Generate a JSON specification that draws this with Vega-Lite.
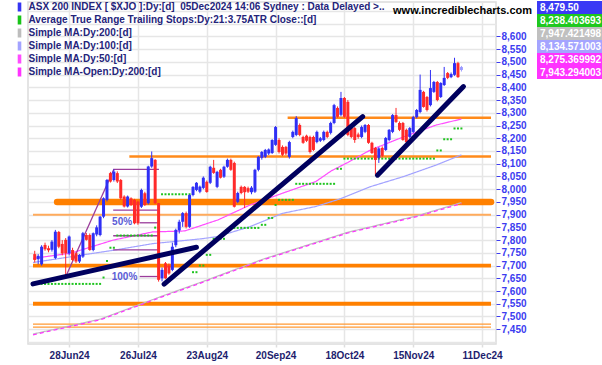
{
"$schema": "https://vega.github.io/schema/vega-lite/v6.json",
"width": 468, "height": 342,
"autosize": {"type": "none"},
"padding": {"left": 28, "top": 2, "right": 106, "bottom": 21},
"background": "white",
"title": {"text": "www.incrediblecharts.com", "orient": "top", "anchor": "end", "align": "right", "frame": "group", "offset": 0, "dy": 24, "dx": 36, "font": "Liberation Sans", "fontSize": 11, "fontWeight": "bold", "color": "#000000", "baseline": "alphabetic", "limit": 0},
"config": {
"view": {"stroke": "#dcdcdc", "strokeWidth": 1.5},
"font": "Liberation Sans",
"title": {"fontSize": 11, "font": "Liberation Sans", "fontWeight": "bold"},
"axisY": {"grid": true, "gridColor": "#e6e6e6", "gridWidth": 1.5, "domain": false, "tickSize": 4, "tickCount": 27, "labelFont": "Liberation Sans", "labelFontWeight": "bold", "labelFontSize": 10, "labelColor": "#3c3cf0", "labelPadding": 1, "labelOverlap": false, "labelSeparation": 0, "labelFlush": false, "labelBaseline": "middle"},
"axisX": {"grid": true, "gridColor": "#e6e6e6", "gridWidth": 1.5, "domain": false, "tickSize": 3, "tickColor": "#dedede", "tickWidth": 1.5, "labelFont": "Liberation Sans", "labelFontWeight": "bold", "labelFontSize": 10, "labelColor": "#1e1e6e", "labelPadding": 3, "labelFlush": false, "labelOverlap": false}
},
"datasets": {
"levels": [
{"v": 8280, "a": 63.5, "b": 122.6, "k": "mid"},
{"v": 8128, "a": 17.5, "b": 122.6, "k": "mid"},
{"v": 7950, "a": -3.5, "b": 122.6, "k": "heavy"},
{"v": 7900, "a": -10.5, "b": 122.6, "k": "thin"},
{"v": 7700, "a": -10.5, "b": 122.6, "k": "wide"},
{"v": 7550, "a": -10.5, "b": 122.6, "k": "wide"},
{"v": 7470, "a": -10.5, "b": 122.6, "k": "hair"},
{"v": 7458, "a": -10.5, "b": 122.6, "k": "hair"}
],
"ma": [
{"s": "Simple MA:Dy:50:[d]", "i": -10.5, "v": 7728},
{"s": "Simple MA:Dy:50:[d]", "i": 0.6, "v": 7749},
{"s": "Simple MA:Dy:50:[d]", "i": 8, "v": 7780},
{"s": "Simple MA:Dy:50:[d]", "i": 12.8, "v": 7800},
{"s": "Simple MA:Dy:50:[d]", "i": 24.2, "v": 7832},
{"s": "Simple MA:Dy:50:[d]", "i": 33.6, "v": 7836},
{"s": "Simple MA:Dy:50:[d]", "i": 43.2, "v": 7879},
{"s": "Simple MA:Dy:50:[d]", "i": 52.6, "v": 7938},
{"s": "Simple MA:Dy:50:[d]", "i": 62, "v": 7984},
{"s": "Simple MA:Dy:50:[d]", "i": 71.7, "v": 8030},
{"s": "Simple MA:Dy:50:[d]", "i": 76.2, "v": 8072},
{"s": "Simple MA:Dy:50:[d]", "i": 81, "v": 8105},
{"s": "Simple MA:Dy:50:[d]", "i": 87.6, "v": 8154},
{"s": "Simple MA:Dy:50:[d]", "i": 97.3, "v": 8206},
{"s": "Simple MA:Dy:50:[d]", "i": 106.7, "v": 8252},
{"s": "Simple MA:Dy:50:[d]", "i": 114, "v": 8275.4},
{"s": "Simple MA:Dy:100:[d]", "i": -10.5, "v": 7712},
{"s": "Simple MA:Dy:100:[d]", "i": 12.8, "v": 7760},
{"s": "Simple MA:Dy:100:[d]", "i": 24.2, "v": 7786},
{"s": "Simple MA:Dy:100:[d]", "i": 38.4, "v": 7805},
{"s": "Simple MA:Dy:100:[d]", "i": 43.2, "v": 7814},
{"s": "Simple MA:Dy:100:[d]", "i": 52.6, "v": 7853},
{"s": "Simple MA:Dy:100:[d]", "i": 62, "v": 7905},
{"s": "Simple MA:Dy:100:[d]", "i": 71.7, "v": 7932},
{"s": "Simple MA:Dy:100:[d]", "i": 78.8, "v": 7962},
{"s": "Simple MA:Dy:100:[d]", "i": 87.6, "v": 8010},
{"s": "Simple MA:Dy:100:[d]", "i": 97.3, "v": 8050},
{"s": "Simple MA:Dy:100:[d]", "i": 106.7, "v": 8095},
{"s": "Simple MA:Dy:100:[d]", "i": 114, "v": 8134.6},
{"s": "Simple MA:Dy:200:[d]", "i": -10.5, "v": 7431},
{"s": "Simple MA:Dy:200:[d]", "i": 9.1, "v": 7490},
{"s": "Simple MA:Dy:200:[d]", "i": 27, "v": 7580},
{"s": "Simple MA:Dy:200:[d]", "i": 38.4, "v": 7635},
{"s": "Simple MA:Dy:200:[d]", "i": 56.3, "v": 7725},
{"s": "Simple MA:Dy:200:[d]", "i": 81, "v": 7831},
{"s": "Simple MA:Dy:200:[d]", "i": 101, "v": 7895},
{"s": "Simple MA:Dy:200:[d]", "i": 114, "v": 7947.4},
{"s": "Simple MA-Open:Dy:200:[d]", "i": -10.5, "v": 7428},
{"s": "Simple MA-Open:Dy:200:[d]", "i": 9.1, "v": 7487},
{"s": "Simple MA-Open:Dy:200:[d]", "i": 27, "v": 7577},
{"s": "Simple MA-Open:Dy:200:[d]", "i": 38.4, "v": 7632},
{"s": "Simple MA-Open:Dy:200:[d]", "i": 56.3, "v": 7722},
{"s": "Simple MA-Open:Dy:200:[d]", "i": 81, "v": 7828},
{"s": "Simple MA-Open:Dy:200:[d]", "i": 101, "v": 7892},
{"s": "Simple MA-Open:Dy:200:[d]", "i": 114, "v": 7943.3}
],
"fib": [
{"a": -1, "va": 7656, "b": 13, "vb": 8078},
{"a": 12.8, "va": 8078, "b": 26.1, "vb": 8078},
{"a": 12.8, "va": 7918, "b": 26.1, "vb": 7918},
{"a": 20.5, "va": 7868, "b": 26.1, "vb": 7868},
{"a": 12.8, "va": 7817, "b": 26.1, "vb": 7817},
{"a": 12.8, "va": 7762, "b": 26.1, "vb": 7762},
{"a": 20.5, "va": 7657, "b": 26.1, "vb": 7657}
],
"fibtxt": [
{"i": 15.4, "v": 7870, "t": "50%"},
{"i": 16.1, "v": 7657, "t": "100%"}
],
"trend": [
{"a": -10.5, "va": 7628, "b": 37, "vb": 7772},
{"a": 27.6, "va": 7627, "b": 85.3, "vb": 8285},
{"a": 89.6, "va": 8055, "b": 114.6, "vb": 8403}
],
"last": [
{"lab": "8,479.50", "i": 114, "v": 8479.5},
{"lab": "8,238.403693", "i": 114, "v": 8238.4},
{"lab": "7,947.421498", "i": 114, "v": 7947.4},
{"lab": "8,134.571003", "i": 114, "v": 8134.6},
{"lab": "8,275.369992", "i": 114, "v": 8275.4},
{"lab": "7,943.294003", "i": 114, "v": 7943.3}
],
"atr": [
{"i":-10,"s":7628},{"i":-9,"s":7628},{"i":-8,"s":7628},{"i":-7,"s":7628},{"i":-6,"s":7628},{"i":-5,"s":7628},{"i":-4,"s":7628},{"i":-3,"s":7628},{"i":-2,"s":7628},{"i":-1,"s":7628},
{"i":0,"s":7628},{"i":1,"s":7628},{"i":2,"s":7628},{"i":3,"s":7628},{"i":4,"s":7628},{"i":5,"s":7628},{"i":6,"s":7628},{"i":7,"s":7628},{"i":8,"s":7628},{"i":9,"s":7628},
{"i":10,"s":7653},{"i":11,"s":7718},{"i":12,"s":7770},{"i":13,"s":7770},{"i":14,"s":7818},{"i":15,"s":7818},{"i":16,"s":7818},{"i":17,"s":7818},{"i":18,"s":7818},{"i":19,"s":7818},
{"i":20,"s":7818},{"i":21,"s":7818},{"i":22,"s":7818},{"i":23,"s":7818},{"i":24,"s":7818},{"i":25,"s":7849},{"i":26,"s":7849},{"i":27,"s":7980},{"i":28,"s":7980},{"i":29,"s":7980},
{"i":30,"s":7980},{"i":31,"s":7980},{"i":32,"s":7980},{"i":33,"s":7980},{"i":34,"s":7980},{"i":35,"s":7980},{"i":36,"s":7674},{"i":37,"s":7674},{"i":38,"s":7700},{"i":39,"s":7700},
{"i":40,"s":7742},{"i":41,"s":7742},{"i":42,"s":7805},{"i":43,"s":7805},{"i":44,"s":7805},{"i":45,"s":7805},{"i":46,"s":7830},{"i":47,"s":7848},{"i":48,"s":7848},{"i":49,"s":7848},
{"i":50,"s":7848},{"i":51,"s":7848},{"i":52,"s":7848},{"i":53,"s":7848},{"i":54,"s":7848},{"i":55,"s":7848},{"i":56,"s":7860},{"i":57,"s":7860},{"i":58,"s":7887},{"i":59,"s":7887},
{"i":60,"s":7938},{"i":61,"s":7958},{"i":62,"s":7958},{"i":63,"s":7958},{"i":64,"s":7958},{"i":65,"s":7958},{"i":66,"s":8021},{"i":67,"s":8021},{"i":68,"s":8021},{"i":69,"s":8021},
{"i":70,"s":8021},{"i":71,"s":8021},{"i":72,"s":8021},{"i":73,"s":8021},{"i":74,"s":8021},{"i":75,"s":8021},{"i":76,"s":8021},{"i":77,"s":8021},{"i":78,"s":8080},{"i":79,"s":8080},
{"i":80,"s":8120},{"i":81,"s":8120},{"i":82,"s":8120},{"i":83,"s":8120},{"i":84,"s":8120},{"i":85,"s":8120},{"i":86,"s":8120},{"i":87,"s":8120},{"i":88,"s":8120},{"i":89,"s":8120},
{"i":90,"s":8120},{"i":91,"s":8120},{"i":92,"s":8120},{"i":93,"s":8120},{"i":94,"s":8120},{"i":95,"s":8120},{"i":96,"s":8120},{"i":97,"s":8120},{"i":98,"s":8120},{"i":99,"s":8120},
{"i":100,"s":8120},{"i":101,"s":8120},{"i":102,"s":8120},{"i":103,"s":8120},{"i":104,"s":8120},{"i":105,"s":8120},{"i":106,"s":8120},{"i":107,"s":8152},{"i":108,"s":8152},{"i":109,"s":8196},
{"i":110,"s":8196},{"i":111,"s":8196},{"i":112,"s":8238.4},{"i":113,"s":8238.4},{"i":114,"s":8238.4}
],
"ohlc": [
{"i":-10,"o":7745,"h":7758,"l":7712,"c":7722},
{"i":-9,"o":7725,"h":7745,"l":7705,"c":7738},
{"i":-8,"o":7705,"h":7780,"l":7700,"c":7774},
{"i":-7,"o":7781,"h":7790,"l":7758,"c":7764},
{"i":-6,"o":7768,"h":7778,"l":7752,"c":7760},
{"i":-5,"o":7762,"h":7800,"l":7755,"c":7794},
{"i":-4,"o":7730,"h":7840,"l":7725,"c":7833},
{"i":-3,"o":7832,"h":7836,"l":7768,"c":7774},
{"i":-2,"o":7785,"h":7800,"l":7740,"c":7748},
{"i":-1,"o":7801,"h":7808,"l":7657,"c":7748},
{"i":0,"o":7748,"h":7818,"l":7740,"c":7814},
{"i":1,"o":7761,"h":7770,"l":7718,"c":7722},
{"i":2,"o":7748,"h":7752,"l":7710,"c":7716},
{"i":3,"o":7716,"h":7745,"l":7710,"c":7742},
{"i":4,"o":7735,"h":7832,"l":7730,"c":7827},
{"i":5,"o":7820,"h":7828,"l":7798,"c":7801},
{"i":6,"o":7820,"h":7826,"l":7758,"c":7761},
{"i":7,"o":7761,"h":7830,"l":7756,"c":7827},
{"i":8,"o":7822,"h":7858,"l":7815,"c":7850},
{"i":9,"o":7820,"h":7895,"l":7815,"c":7892},
{"i":10,"o":7892,"h":7968,"l":7886,"c":7964},
{"i":11,"o":7958,"h":8040,"l":7952,"c":8036},
{"i":12,"o":8063,"h":8068,"l":8026,"c":8030},
{"i":13,"o":8036,"h":8078,"l":8030,"c":8069},
{"i":14,"o":8063,"h":8070,"l":8024,"c":8030},
{"i":15,"o":8036,"h":8040,"l":7958,"c":7964},
{"i":16,"o":7971,"h":7976,"l":7928,"c":7932},
{"i":17,"o":7932,"h":7975,"l":7928,"c":7971},
{"i":18,"o":7964,"h":7968,"l":7934,"c":7938},
{"i":19,"o":7958,"h":7962,"l":7862,"c":7866},
{"i":20,"o":7951,"h":7955,"l":7860,"c":7866},
{"i":21,"o":7931,"h":8002,"l":7926,"c":7997},
{"i":22,"o":7984,"h":7990,"l":7934,"c":7938},
{"i":23,"o":7945,"h":8092,"l":7940,"c":8089},
{"i":24,"o":8089,"h":8148,"l":8084,"c":8122},
{"i":25,"o":8115,"h":8118,"l":7942,"c":7945},
{"i":26,"o":7945,"h":7946,"l":7637,"c":7644},
{"i":27,"o":7650,"h":7692,"l":7638,"c":7683},
{"i":28,"o":7709,"h":7714,"l":7648,"c":7650},
{"i":29,"o":7700,"h":7708,"l":7664,"c":7669},
{"i":30,"o":7683,"h":7790,"l":7678,"c":7774},
{"i":31,"o":7780,"h":7845,"l":7772,"c":7840},
{"i":32,"o":7838,"h":7880,"l":7826,"c":7872},
{"i":33,"o":7872,"h":7910,"l":7852,"c":7906},
{"i":34,"o":7906,"h":7912,"l":7846,"c":7852},
{"i":35,"o":7852,"h":7980,"l":7848,"c":7977},
{"i":36,"o":7977,"h":8012,"l":7972,"c":8009},
{"i":37,"o":7997,"h":8028,"l":7992,"c":8025},
{"i":38,"o":7990,"h":8014,"l":7984,"c":8010},
{"i":39,"o":8005,"h":8050,"l":8000,"c":8045},
{"i":40,"o":8029,"h":8034,"l":7986,"c":7989},
{"i":41,"o":8025,"h":8092,"l":8020,"c":8088},
{"i":42,"o":8084,"h":8115,"l":8060,"c":8064},
{"i":43,"o":8009,"h":8072,"l":8004,"c":8068},
{"i":44,"o":8076,"h":8080,"l":8042,"c":8045},
{"i":45,"o":8049,"h":8092,"l":8044,"c":8088},
{"i":46,"o":8088,"h":8120,"l":8084,"c":8115},
{"i":47,"o":8115,"h":8120,"l":8072,"c":8076},
{"i":48,"o":8103,"h":8108,"l":7928,"c":7931},
{"i":49,"o":7950,"h":7990,"l":7945,"c":7985},
{"i":50,"o":8009,"h":8014,"l":7980,"c":7985},
{"i":51,"o":8009,"h":8012,"l":7926,"c":7988},
{"i":52,"o":8004,"h":8010,"l":7985,"c":7990},
{"i":53,"o":7988,"h":8012,"l":7980,"c":8006},
{"i":54,"o":7990,"h":8080,"l":7985,"c":8076},
{"i":55,"o":8076,"h":8130,"l":8070,"c":8127},
{"i":56,"o":8123,"h":8150,"l":8116,"c":8146},
{"i":57,"o":8127,"h":8158,"l":8122,"c":8154},
{"i":58,"o":8140,"h":8160,"l":8134,"c":8156},
{"i":59,"o":8142,"h":8196,"l":8138,"c":8193},
{"i":60,"o":8174,"h":8248,"l":8170,"c":8244},
{"i":61,"o":8193,"h":8200,"l":8140,"c":8146},
{"i":62,"o":8166,"h":8172,"l":8130,"c":8135},
{"i":63,"o":8166,"h":8170,"l":8134,"c":8140},
{"i":64,"o":8127,"h":8190,"l":8120,"c":8185},
{"i":65,"o":8205,"h":8230,"l":8200,"c":8225},
{"i":66,"o":8213,"h":8287,"l":8208,"c":8279},
{"i":67,"o":8252,"h":8258,"l":8208,"c":8213},
{"i":68,"o":8205,"h":8210,"l":8178,"c":8182},
{"i":69,"o":8210,"h":8214,"l":8185,"c":8190},
{"i":70,"o":8205,"h":8210,"l":8140,"c":8146},
{"i":71,"o":8205,"h":8210,"l":8150,"c":8154},
{"i":72,"o":8185,"h":8230,"l":8180,"c":8225},
{"i":73,"o":8190,"h":8205,"l":8185,"c":8200},
{"i":74,"o":8193,"h":8230,"l":8188,"c":8225},
{"i":75,"o":8225,"h":8230,"l":8200,"c":8205},
{"i":76,"o":8221,"h":8265,"l":8215,"c":8260},
{"i":77,"o":8260,"h":8335,"l":8255,"c":8330},
{"i":78,"o":8319,"h":8325,"l":8280,"c":8284},
{"i":79,"o":8292,"h":8382,"l":8286,"c":8358},
{"i":80,"o":8358,"h":8362,"l":8280,"c":8284},
{"i":81,"o":8343,"h":8350,"l":8208,"c":8213},
{"i":82,"o":8244,"h":8250,"l":8200,"c":8205},
{"i":83,"o":8240,"h":8244,"l":8182,"c":8193},
{"i":84,"o":8215,"h":8222,"l":8198,"c":8205},
{"i":85,"o":8205,"h":8250,"l":8200,"c":8244},
{"i":86,"o":8225,"h":8256,"l":8220,"c":8252},
{"i":87,"o":8252,"h":8256,"l":8178,"c":8182},
{"i":88,"o":8182,"h":8186,"l":8138,"c":8142},
{"i":89,"o":8162,"h":8166,"l":8056,"c":8115},
{"i":90,"o":8123,"h":8165,"l":8103,"c":8160},
{"i":91,"o":8162,"h":8168,"l":8125,"c":8131},
{"i":92,"o":8154,"h":8205,"l":8150,"c":8201},
{"i":93,"o":8193,"h":8236,"l":8188,"c":8233},
{"i":94,"o":8225,"h":8295,"l":8220,"c":8291},
{"i":95,"o":8291,"h":8319,"l":8260,"c":8264},
{"i":96,"o":8260,"h":8266,"l":8228,"c":8233},
{"i":97,"o":8260,"h":8264,"l":8190,"c":8193},
{"i":98,"o":8233,"h":8238,"l":8182,"c":8185},
{"i":99,"o":8205,"h":8244,"l":8200,"c":8240},
{"i":100,"o":8225,"h":8288,"l":8220,"c":8283},
{"i":101,"o":8283,"h":8315,"l":8278,"c":8311},
{"i":102,"o":8303,"h":8450,"l":8298,"c":8390},
{"i":103,"o":8382,"h":8386,"l":8320,"c":8323},
{"i":104,"o":8362,"h":8366,"l":8305,"c":8311},
{"i":105,"o":8330,"h":8468,"l":8325,"c":8397},
{"i":106,"o":8382,"h":8425,"l":8378,"c":8421},
{"i":107,"o":8421,"h":8425,"l":8345,"c":8350},
{"i":108,"o":8362,"h":8420,"l":8358,"c":8417},
{"i":109,"o":8409,"h":8480,"l":8405,"c":8437},
{"i":110,"o":8456,"h":8460,"l":8432,"c":8437},
{"i":111,"o":8440,"h":8458,"l":8436,"c":8452},
{"i":112,"o":8449,"h":8516,"l":8445,"c":8495},
{"i":113,"o":8495,"h":8500,"l":8437,"c":8440},
{"i":114,"o":8468,"h":8484,"l":8462,"c":8479.5}
]
},
"layer": [
{
"data": {"name": "levels"},
"transform": [{"filter": "datum.k == 'hair'"}],
"mark": {"type": "rule", "clip": true, "stroke": "#ff9933", "strokeWidth": 1.3},
"encoding": {
"x": {"field": "a", "type": "quantitative", "title": null,
"scale": {"domain": [-10.5, 122.6], "nice": false, "zero": false},
"axis": {"values": [0, 20, 40, 60, 80, 100, 120], "labelExpr": "['28Jun24','26Jul24','23Aug24','20Sep24','18Oct24','15Nov24','11Dec24'][round(datum.value/20)]"}},
"x2": {"field": "b"},
"y": {"field": "v", "type": "quantitative", "title": null,
"scale": {"domain": [7392, 8735], "nice": false, "zero": false},
"axis": {"orient": "right", "values": [7400,7450,7500,7550,7600,7650,7700,7750,7800,7850,7900,7950,8000,8050,8100,8150,8200,8250,8300,8350,8400,8450,8500,8550,8600,8650,8700], "labelExpr": "datum.value >= 7450 && datum.value <= 8600 ? format(datum.value, ',') : ''", "labelOverlap": false, "tickColor": {"condition": {"test": "datum.value < 7450 || datum.value > 8600", "value": "transparent"}, "value": "#3c3cf0"}}}
}
},
{
"data": {"name": "levels"},
"transform": [{"filter": "datum.k == 'thin'"}],
"mark": {"type": "rule", "clip": true, "stroke": "#ffab5c", "strokeWidth": 2},
"encoding": {"x": {"field": "a", "type": "quantitative", "title": null}, "x2": {"field": "b"}, "y": {"field": "v", "type": "quantitative", "title": null}}
},
{
"data": {"name": "levels"},
"transform": [{"filter": "datum.k == 'mid'"}],
"mark": {"type": "rule", "clip": true, "stroke": "#ff8a1a", "strokeWidth": 2.5},
"encoding": {"x": {"field": "a", "type": "quantitative", "title": null}, "x2": {"field": "b"}, "y": {"field": "v", "type": "quantitative", "title": null}}
},
{
"data": {"name": "levels"},
"transform": [{"filter": "datum.k == 'wide'"}],
"mark": {"type": "rule", "clip": true, "stroke": "#ff8000", "strokeWidth": 3.8},
"encoding": {"x": {"field": "a", "type": "quantitative", "title": null}, "x2": {"field": "b"}, "y": {"field": "v", "type": "quantitative", "title": null}}
},
{
"data": {"name": "levels"},
"transform": [{"filter": "datum.k == 'heavy'"}],
"mark": {"type": "rule", "clip": true, "stroke": "#ff8000", "strokeWidth": 6.5, "strokeCap": "round"},
"encoding": {"x": {"field": "a", "type": "quantitative", "title": null}, "x2": {"field": "b"}, "y": {"field": "v", "type": "quantitative", "title": null}}
},
{
"data": {"name": "ma"},
"mark": {"type": "line", "strokeWidth": 1.2, "clip": true},
"encoding": {
"x": {"field": "i", "type": "quantitative", "title": null},
"y": {"field": "v", "type": "quantitative", "title": null},
"color": {"field": "s", "type": "nominal",
"scale": {"domain": ["ASX 200 INDEX [ $XJO ]:Dy:[d]\u00a0\u00a005Dec2024 14:06 Sydney : Data Delayed >..", "Average True Range Trailing Stops:Dy:21:3.75ATR Close::[d]", "Simple MA:Dy:200:[d]", "Simple MA:Dy:100:[d]", "Simple MA:Dy:50:[d]", "Simple MA-Open:Dy:200:[d]"], "range": ["#3535f2", "#18c418", "#bdbdbd", "#a3a3ff", "#ff4dff", "#ff33ff"]},
"legend": {"title": null, "orient": "none", "legendX": -13.5, "legendY": 0, "symbolType": "M-0.4,-1H0.4V1H-0.4Z", "symbolSize": 81, "symbolStrokeWidth": 0, "labelFont": "Liberation Sans", "labelFontWeight": "bold", "labelFontSize": 10, "labelColor": "#24247a", "labelOffset": 4, "rowPadding": 3, "labelLimit": 600, "padding": 0,
"encode": {"symbols": {"update": {"fill": {"scale": "color", "field": "value"}, "opacity": {"value": 1}}}}}},
"strokeDash": {"condition": {"test": "datum.s === 'Simple MA-Open:Dy:200:[d]'", "value": [4, 3]}, "value": [1, 0]}
}
},
{
"data": {"name": "fib"},
"mark": {"type": "rule", "color": "#9b3d9b", "strokeWidth": 1.3},
"encoding": {
"x": {"field": "a", "type": "quantitative", "title": null},
"x2": {"field": "b"},
"y": {"field": "va", "type": "quantitative", "title": null},
"y2": {"field": "vb"}
}
},
{
"data": {"name": "fibtxt"},
"mark": {"type": "text", "font": "Liberation Sans", "fontWeight": "bold", "fontSize": 10, "color": "#5b5bd6", "align": "center", "baseline": "middle"},
"encoding": {
"x": {"field": "i", "type": "quantitative", "title": null},
"y": {"field": "v", "type": "quantitative", "title": null},
"text": {"field": "t"}
}
},
{
"data": {"name": "atr"},
"mark": {"type": "square", "size": 4, "filled": true, "color": "#1fc41f", "opacity": 1},
"encoding": {
"x": {"field": "i", "type": "quantitative", "title": null},
"y": {"field": "s", "type": "quantitative", "title": null}
}
},
{
"data": {"name": "ohlc"},
"mark": {"type": "rule", "strokeWidth": 1},
"encoding": {
"x": {"field": "i", "type": "quantitative", "title": null},
"y": {"field": "l", "type": "quantitative", "title": null},
"y2": {"field": "h"},
"color": {"condition": [{"test": "datum.i == 114", "value": "#9a9aff"}, {"test": "datum.c >= datum.o", "value": "#2f2ff5"}], "value": "#ff2a2a"}
}
},
{
"data": {"name": "ohlc"},
"mark": {"type": "bar", "width": 3},
"encoding": {
"x": {"field": "i", "type": "quantitative", "title": null},
"y": {"field": "o", "type": "quantitative", "title": null},
"y2": {"field": "c"},
"color": {"condition": [{"test": "datum.i == 114", "value": "#9a9aff"}, {"test": "datum.c >= datum.o", "value": "#2f2ff5"}], "value": "#ff2a2a"}
}
},
{
"data": {"name": "trend"},
"mark": {"type": "rule", "color": "#00005e", "strokeWidth": 5, "strokeCap": "round", "clip": true},
"encoding": {
"x": {"field": "a", "type": "quantitative", "title": null},
"x2": {"field": "b"},
"y": {"field": "va", "type": "quantitative", "title": null},
"y2": {"field": "vb"}
}
},
{
"data": {"name": "last"},
"mark": {"type": "point", "opacity": 0, "filled": true},
"encoding": {
"x": {"field": "i", "type": "quantitative", "title": null},
"y": {"field": "v", "type": "quantitative", "title": null},
"fill": {"field": "lab", "type": "nominal",
"scale": {"domain": ["8,479.50", "8,238.403693", "7,947.421498", "8,134.571003", "8,275.369992", "7,943.294003"], "range": ["#3a3af5", "#1ec81e", "#c0c0c0", "#a4a4ff", "#ff33ff", "#ff33ff"]},
"legend": {"title": null, "orient": "none", "legendX": 535, "legendY": -1, "symbolType": "M-5,-1H5V1H-5Z", "symbolSize": 169, "symbolStrokeWidth": 0, "symbolOpacity": 1, "labelFont": "Liberation Sans", "labelFontWeight": "bold", "labelFontSize": 10, "labelColor": "#ffffff", "labelOffset": -36, "rowPadding": 0, "padding": 0, "labelLimit": 200,
"encode": {"symbols": {"update": {"fill": {"scale": "fill", "field": "value"}, "opacity": {"value": 1}}}}}}
}
}
]
}
